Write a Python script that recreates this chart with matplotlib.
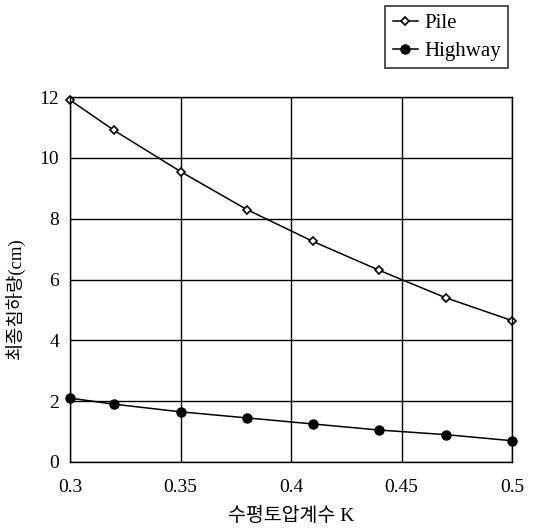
import matplotlib.pyplot as plt
import numpy as np

k_values = [0.3, 0.32, 0.35, 0.38, 0.41, 0.44, 0.47, 0.5]
pile = [11.9, 10.9, 9.55, 8.3, 7.25, 6.3, 5.4, 4.65]
highway = [2.1, 1.9, 1.65, 1.45, 1.25, 1.05, 0.9, 0.7]

x_ticks = [0.3, 0.35, 0.4, 0.45, 0.5]
x_tick_labels = ["0.3", "0.35", "0.4", "0.45", "0.5"]
y_ticks = [0, 2, 4, 6, 8, 10, 12]

plt.rcParams['font.family'] = ['Liberation Serif', 'Noto Sans CJK KR']

fig = plt.figure(figsize=(5.33, 5.31), dpi=100)
ax = fig.add_axes([70 / 533, 1 - 462 / 531, 442 / 533, 365 / 531])

ax.plot(k_values, pile, '-', color='black', lw=1.1, marker='D', ms=4,
        mfc='white', mec='black', mew=1.2, label='Pile', clip_on=False)
ax.plot(k_values, highway, '-', color='black', lw=1.1, marker='o', ms=6.5,
        mfc='black', mec='black', label='Highway', clip_on=False)

ax.set_xlim(0.3, 0.5)
ax.set_ylim(0, 12)
ax.set_xticks(x_ticks)
ax.set_xticklabels(x_tick_labels)
ax.set_yticks(y_ticks)
ax.tick_params(length=0, labelsize=14)
ax.tick_params(axis='x', pad=12)
ax.tick_params(axis='y', pad=8)
ax.grid(True, color='black', lw=1.0)
for s in ax.spines.values():
    s.set_linewidth(1.0)

ax.set_xlabel('수평토압계수 K', fontsize=14, labelpad=8)
ax.set_ylabel('최종침하량(cm)', fontsize=13.5)
ax.yaxis.set_label_coords(-0.1, 0.45)

leg = ax.legend(loc='upper right', bbox_to_anchor=(508 / 533, 1 - 6 / 531),
                bbox_transform=fig.transFigure, fontsize=15, frameon=True,
                fancybox=False, edgecolor='black', handlelength=1.2,
                handletextpad=0.3, borderpad=0.35, labelspacing=0.4,
                borderaxespad=0)
leg.get_frame().set_linewidth(1.2)

fig.savefig('out.png', dpi=100)
